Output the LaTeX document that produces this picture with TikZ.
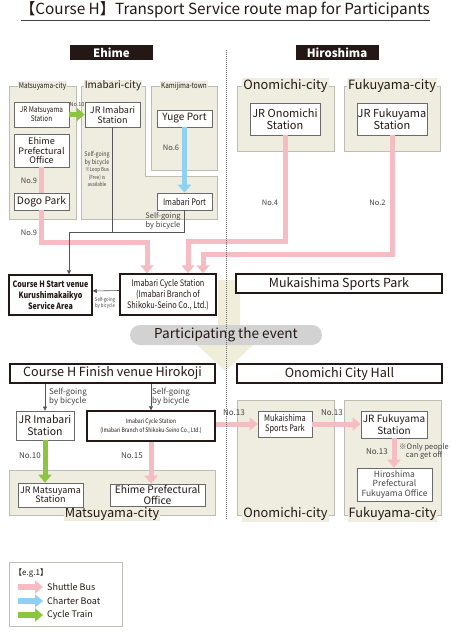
\documentclass[tikz,border=0pt]{standalone}
\usepackage{fontspec}
\setmainfont{Noto Sans CJK JP}
\newfontfamily\narrowfont[FakeStretch=0.82]{Noto Sans CJK JP}
\usetikzlibrary{arrows.meta,positioning}
\definecolor{Ink}{HTML}{231815}
\definecolor{Muted}{HTML}{444444}
\definecolor{Panel}{HTML}{EFEDE0}
\definecolor{PanelLine}{HTML}{BDBDB3}
\definecolor{BoxLine}{HTML}{6A6A6A}
\definecolor{Bus}{HTML}{F5BCC3}
\definecolor{Boat}{HTML}{8ED1F2}
\definecolor{Train}{HTML}{8CC63E}
\definecolor{BikeLine}{HTML}{555555}
\definecolor{Pill}{HTML}{D2D2D2}
\definecolor{Flow}{HTML}{F0EEDB}
\newcommand\fsz[2]{\fontsize{#1}{#2}\selectfont}

\begin{document}
\begin{tikzpicture}[
  x=1pt,y=-1pt,
  panel/.style={draw=PanelLine,fill=Panel,line width=0.8pt},
  plabel/.style={fill=Panel,inner sep=1pt,text=Ink},
  stn/.style={draw=BoxLine,fill=white,line width=0.7pt,align=center,inner sep=0pt,text=Ink},
  venue/.style={draw=Ink,fill=white,line width=1.5pt,align=center,inner sep=0pt,text=Ink},
  tag/.style={fill=Ink,text=white,inner sep=0pt,minimum width=83pt,minimum height=15pt,font=\fsz{11.5}{13}\bfseries},
  note/.style={text=Muted,inner sep=0pt,align=center},
  busline/.style={draw=Bus,line width=5pt,line join=miter},
  bus/.style={busline,-{Triangle[width=13pt,length=8pt]}},
  boat/.style={bus,draw=Boat},
  train/.style={bus,draw=Train},
  bikeline/.style={draw=BikeLine,line width=0.6pt},
  bike/.style={bikeline,-{Triangle[width=4pt,length=4pt]}}
]
\useasboundingbox[fill=white] (0,0) rectangle (450,634);
\clip (0,0) rectangle (450,634);

% title
\node[text=Ink,inner sep=0pt,font=\fsz{15.3}{17}] (title) at (225,10) {【Course H】Transport Service route map for Participants};
\draw[Muted,line width=0.8pt] (21,20) -- (430,20);

\node[tag] (ehime) at (111.5,52.5) {Ehime};
\node[tag] (hiro) at (337,52.5) {Hiroshima};

% panels, Ehime side
\draw[panel] (9,86) rectangle (76,219);
\draw[panel] (81,86) -- (145,86) -- (145,176) -- (217,176) -- (217,219) -- (81,219) -- cycle;
\draw[panel] (151,86) rectangle (217,170);
\node[plabel,font=\narrowfont\fsz{7.8}{8}] (lmat) at (42.5,86) {Matsuyama-city};
\node[plabel,font=\fsz{10}{10}] (lima) at (113,86) {Imabari-city};
\node[plabel,font=\narrowfont\fsz{7.8}{8}] (lkam) at (184,86) {Kamijima-town};

% panels, Hiroshima side
\draw[panel] (237,86) rectangle (334,151);
\draw[panel] (344,86) rectangle (440,151);
\node[plabel,font=\fsz{12.8}{13}] (lono) at (285.5,86) {Onomichi-city};
\node[plabel,font=\fsz{12.8}{13}] (lfuk) at (392,86) {Fukuyama-city};

% panels, bottom
\draw[panel] (9,470) rectangle (215,515);
\draw[panel] (237,400) rectangle (334,515);
\draw[panel] (344,400) rectangle (441,515);
\node[plabel,font=\fsz{12.8}{13}] (lmat2) at (112,514) {Matsuyama-city};
\node[plabel,font=\fsz{12.8}{13}] (lono2) at (285.5,514) {Onomichi-city};
\node[plabel,font=\fsz{12.8}{13}] (lfuk2) at (392.5,514) {Fukuyama-city};

% flow into the event
\fill[Flow] (218,280) -- (240,280) -- (240,345) -- (253,345) -- (225.5,371) -- (197,345) -- (218,345) -- cycle;

% notes
\node[note,font=\fsz{5.5}{6}] (n10) at (77,105) {No.10};
\node[note,font=\fsz{7.5}{8}] (n9a) at (29,181) {No.9};
\node[note,font=\fsz{7.5}{8}] (n9b) at (29,233) {No.9};
\node[note,font=\fsz{7.5}{8}] (n6) at (171,148) {No.6};
\node[note,font=\fsz{7.5}{8}] (n4) at (270,203) {No.4};
\node[note,font=\fsz{7.5}{8}] (n2) at (377.5,203) {No.2};
\node[note,font=\narrowfont\fsz{5.5}{7.5}] (loop) at (97,169) {\fsz{6.5}{8.5}Self-going\\\fsz{6.5}{8.5}by bicycle\\※Loop Bus\\(Free) is\\available};
\node[note,font=\fsz{7.5}{8.8}] (bport) at (163,220.5) {Self-going\\by bicycle};
\node[note,font=\narrowfont\fsz{5.2}{6.5}] (bstart) at (105,303) {Self-going\\by bicycle};
\node[note,font=\fsz{8}{8.8},align=left,anchor=west] (bfin1) at (49,396.5) {Self-going\\by bicycle};
\node[note,font=\fsz{8}{8.8},align=left,anchor=west] (bfin2) at (152,396.5) {Self-going\\by bicycle};
\node[note,font=\fsz{8}{8}] (n10b) at (30,456) {No.10};
\node[note,font=\fsz{8}{8}] (n15) at (132,456) {No.15};
\node[note,font=\fsz{8}{8}] (n13a) at (234,413) {No.13};
\node[note,font=\fsz{8}{8}] (n13b) at (332,413) {No.13};
\node[note,font=\fsz{8}{8}] (n13c) at (377,452) {No.13};
\node[note,font=\fsz{7.5}{8},anchor=west] (offonly) at (399,451) {※Only people\\can get off};

% stations, Ehime
\node[stn,minimum width=55pt,minimum height=25pt,font=\narrowfont\fsz{7.8}{9}] (matJR) at (41.5,114.5) {JR Matsuyama\\Station};
\node[stn,minimum width=55pt,minimum height=25pt,font=\fsz{9}{10}] (imaJR) at (112.5,114.5) {JR Imabari\\Station};
\node[stn,minimum width=55pt,minimum height=33pt,font=\fsz{9}{9.8}] (ehimeOff) at (41.5,150.5) {Ehime\\Prefectural\\Office};
\node[stn,minimum width=55pt,minimum height=17pt,font=\fsz{10.3}{10}] (dogo) at (41.5,201.5) {Dogo Park};
\node[stn,minimum width=55pt,minimum height=17pt,font=\fsz{10}{10}] (yuge) at (184.5,118.5) {Yuge Port};
\node[stn,minimum width=55pt,minimum height=17pt,font=\narrowfont\fsz{9}{10}] (port) at (184.5,201.5) {Imabari Port};
\node[venue,minimum width=83pt,minimum height=40pt,font=\narrowfont\fsz{8.7}{11}\bfseries] (start) at (50.5,295) {Course H Start venue\\Kurushimakaikyo\\Service Area};
\node[venue,minimum width=96pt,minimum height=41pt,font=\narrowfont\fsz{9}{11}] (cycle) at (168,294.5) {Imabari Cycle Station\\(Imabari Branch of\\Shikoku-Seino Co., Ltd.)};

% stations, Hiroshima
\node[stn,minimum width=70pt,minimum height=32pt,font=\fsz{11}{12.5}] (onoJR) at (285,119) {JR Onomichi\\Station};
\node[stn,minimum width=70pt,minimum height=32pt,font=\fsz{11}{12.5}] (fukJR) at (392,119) {JR Fukuyama\\Station};
\node[venue,minimum width=206pt,minimum height=19pt,font=\fsz{12.5}{13}] (muka) at (339,283.5) {Mukaishima Sports Park};

% after the event
\node[venue,minimum width=205pt,minimum height=19pt,font=\fsz{12.6}{13}] (finish) at (112.5,373.5) {Course H Finish venue Hirokoji};
\node[venue,minimum width=205pt,minimum height=19pt,font=\fsz{12.6}{13}] (hall) at (339.5,373.5) {Onomichi City Hall};
\node[stn,minimum width=58pt,minimum height=29pt,font=\fsz{10.5}{12}] (imaJR2) at (45,425.5) {JR Imabari\\Station};
\node[venue,minimum width=128pt,minimum height=30pt,font=\narrowfont\fsz{6.2}{9}] (cycle2) at (151,426) {Imabari Cycle Station\\(Imabari Branch of Shikoku-Seino Co., Ltd.)};
\node[stn,minimum width=65pt,minimum height=24pt,font=\fsz{9}{9.5}] (matJR2) at (50.5,495) {JR Matsuyama\\Station};
\node[stn,minimum width=95pt,minimum height=22pt,font=\fsz{10.3}{10.5}] (ehimeOff2) at (157.5,495) {Ehime Prefectural\\Office};
\node[stn,minimum width=54pt,minimum height=26pt,font=\narrowfont\fsz{9}{10}] (muka2) at (285,424) {Mukaishima\\Sports Park};
\node[stn,minimum width=66pt,minimum height=27pt,font=\fsz{10}{11.5}] (fukJR2) at (394,424.5) {JR Fukuyama\\Station};
\node[stn,minimum width=75pt,minimum height=33pt,font=\fsz{8.5}{9.8},text=Muted] (hiroOff) at (394.5,484.5) {Hiroshima\\Prefectural\\Fukuyama Office};

% routes to the start
\coordinate (jct9) at (147,242);
\coordinate (jct4) at (188,241);
\coordinate (jct2) at (203,254);
\coordinate (bikeJ) at (69,232);
\draw[train] (matJR.east) -- (imaJR.west);
\draw[busline] (ehimeOff.south) -- (dogo.north);
\draw[bus] (dogo.south) |- (jct9) -- (jct9 |- cycle.north);
\draw[boat] (yuge.south) -- (port.north);
\draw[bus] (onoJR.south) |- (jct4) -- (jct4 |- cycle.north);
\draw[bus] (fukJR.south) |- (jct2) -- (jct2 |- cycle.north);
\draw[bikeline] (port.south) |- (bikeJ);
\draw[bike] (imaJR.south) |- (bikeJ) -- (bikeJ |- start.north);
\draw[bike] ([yshift=4pt]cycle.west) -- ([yshift=4pt]start.east);

% routes after the finish
\draw[bike] (finish.south -| imaJR2.north) -- (imaJR2.north);
\draw[bike] (finish.south -| cycle2.north) -- (cycle2.north);
\draw[train] (imaJR2.south) -- (imaJR2.south |- matJR2.north);
\draw[bus] (cycle2.south) -- (cycle2.south |- ehimeOff2.north);
\draw[bus] (cycle2.east |- muka2.west) -- (muka2.west);
\draw[bus] (muka2.east) -- (fukJR2.west |- muka2.east);
\draw[bus] (fukJR2.south) -- (fukJR2.south |- hiroOff.north);

% the event
\node[fill=Pill,rounded corners=10pt,minimum width=192pt,minimum height=20pt,inner sep=0pt,text=Ink,font=\fsz{13.6}{14}] (event) at (226,335) {Participating the event};
\coordinate (divTop) at (226.5,50);
\coordinate (divBot) at (226.5,520);
\draw[BoxLine,line width=1pt,dash pattern=on 1pt off 1pt] (divTop) -- (divBot);

% legend
\node[draw=PanelLine,line width=0.8pt,minimum width=113pt,minimum height=64pt,inner sep=0pt] (legend) at (65.5,594.5) {};
\node[note,anchor=west,text=Ink,font=\fsz{8}{8}] (eg) at (14,573) {【e.g.1】};
\node[note,anchor=west,text=Ink,font=\fsz{9}{9}] (lgbus) at (47,587) {Shuttle Bus};
\node[note,anchor=west,text=Ink,font=\fsz{9}{9}] (lgboat) at (47,601) {Charter Boat};
\node[note,anchor=west,text=Ink,font=\fsz{9}{9}] (lgtrain) at (47,615) {Cycle Train};
\coordinate (lgA) at (18,587);
\coordinate (lgB) at (18,601);
\coordinate (lgC) at (18,615);
\draw[bus,line width=6pt] (lgA) -- ([xshift=-4pt]lgbus.west);
\draw[boat,line width=6pt] (lgB) -- ([xshift=-4pt]lgboat.west);
\draw[train,line width=6pt] (lgC) -- ([xshift=-4pt]lgtrain.west);
\end{tikzpicture}
\end{document}
